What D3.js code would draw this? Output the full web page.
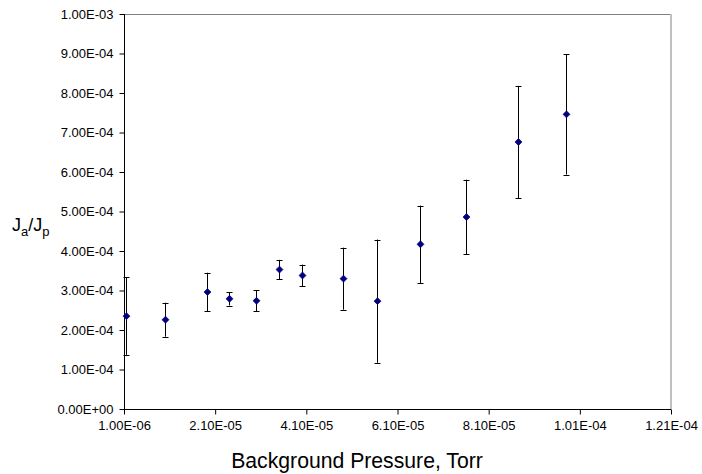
<!DOCTYPE html>
<html>
<head>
<meta charset="utf-8">
<script src="https://cdn.jsdelivr.net/npm/d3@7"></script>
<style>
body { margin: 0; background: #fff; }
text { font-family: "Liberation Sans", Arial, sans-serif; }
</style>
</head>
<body>
<div id="chart"></div>
<script>
// pressure (Torr), ratio Ja/Jp, error half-width
var pressure = [1.5e-6, 1.0e-5, 1.91e-5, 2.4e-5, 3.0e-5, 3.5e-5, 4.0e-5, 4.9e-5, 5.65e-5, 6.6e-5, 7.6e-5, 8.75e-5, 9.8e-5]
var ratio = [2.35e-4, 2.26e-4, 2.96e-4, 2.79e-4, 2.74e-4, 3.53e-4, 3.38e-4, 3.30e-4, 2.73e-4, 4.17e-4, 4.86e-4, 6.76e-4, 7.46e-4]
var err = [0.98e-4, 0.43e-4, 0.49e-4, 0.17e-4, 0.26e-4, 0.245e-4, 0.275e-4, 0.785e-4, 1.56e-4, 0.98e-4, 0.945e-4, 1.42e-4, 1.525e-4]

var xTicks = [1.0e-6, 2.1e-5, 4.1e-5, 6.1e-5, 8.1e-5, 1.01e-4, 1.21e-4]
var yTicks = [0, 1e-4, 2e-4, 3e-4, 4e-4, 5e-4, 6e-4, 7e-4, 8e-4, 9e-4, 1e-3]

var width = 702, height = 474
var margin = {left: 124, top: 14, right: 31, bottom: 65}

var svg = d3.select("#chart")
  .append("svg")
  .attr("width", width)
  .attr("height", height)

var x = d3.scaleLinear()
    .domain([1.0e-6, 1.21e-4])
    .range([margin.left, width - margin.right])
var y = d3.scaleLinear()
    .domain([0, 1e-3])
    .range([height - margin.bottom, margin.top])

function sci(v){
    // excel style 1.00E-04
    if(v == 0) return "0.00E+00"
    let s = v.toExponential(2).toUpperCase()
    let parts = s.split("E")
    let e = parseInt(parts[1])
    let sign = e < 0 ? "-" : "+"
    let ab = Math.abs(e)
    return parts[0] + "E" + sign + (ab < 10 ? "0" + ab : ab)
}

// plot frame: top gray, right light gray
svg.append("line")
  .attr("x1", x.range()[0]).attr("x2", x.range()[1])
  .attr("y1", y(1e-3) + 0.5).attr("y2", y(1e-3) + 0.5)
  .attr("stroke", "#808080")
svg.append("line")
  .attr("x1", x.range()[1]).attr("x2", x.range()[1])
  .attr("y1", y(1e-3)).attr("y2", y(0))
  .attr("stroke", "#c0c0c0")
  .attr("stroke-width", 2)

var xAxis = svg.append("g")
  .attr("transform", "translate(0," + (y(0) + 0.5) + ")")
  .call(d3.axisBottom(x).tickValues(xTicks).tickSize(5).tickPadding(6).tickFormat(sci))
var yAxis = svg.append("g")
  .attr("transform", "translate(" + (x.range()[0] + 0.5) + ",0)")
  .call(d3.axisLeft(y).tickValues(yTicks).tickSize(5).tickPadding(6).tickFormat(sci))

// plain axis lines, no end caps
xAxis.select(".domain").attr("stroke", "#000").attr("d", "M" + x.range()[0] + ",0H" + x.range()[1])
yAxis.select(".domain").attr("stroke", "#000").attr("d", "M0," + y.range()[0] + "V" + y.range()[1])
svg.selectAll(".tick text")
  .attr("font-size", 13)
  .attr("fill", "#000")
  .style("font-family", "'Liberation Sans', Arial, sans-serif")
svg.selectAll(".tick line").attr("stroke", "#000")

// error bars
var bars = svg.append("g")
pressure.forEach(function(p, i){
    let cx = Math.round(x(p)) + 0.5
    let top = y(ratio[i] + err[i])
    let bot = y(ratio[i] - err[i])
    bars.append("line")
      .attr("x1", cx).attr("x2", cx)
      .attr("y1", top).attr("y2", bot)
      .attr("stroke", "#000")
    ;[top, bot].forEach(function(yy){
        bars.append("line")
          .attr("x1", cx - 3).attr("x2", cx + 3)
          .attr("y1", Math.round(yy) + 0.5).attr("y2", Math.round(yy) + 0.5)
          .attr("stroke", "#000")
    })
})

// diamond markers
svg.append("g")
  .selectAll("path")
  .data(pressure)
  .enter()
  .append("path")
  .attr("d", d3.symbol().type(d3.symbolDiamond2).size(30))
  .attr("transform", function(d, i){
      return "translate(" + (Math.round(x(d)) + 0.5) + "," + y(ratio[i]) + ")"
  })
  .attr("fill", "#000080")
  .attr("stroke", "#000080")
  .attr("stroke-width", 0.8)

// axis titles
svg.append("text")
  .attr("x", 357)
  .attr("y", 468)
  .attr("text-anchor", "middle")
  .attr("font-size", 21.2)
  .text("Background Pressure, Torr")

var yl = svg.append("text")
  .attr("x", 12)
  .attr("y", 231)
  .attr("font-size", 18)
yl.append("tspan").text("J")
yl.append("tspan").attr("font-size", 13).attr("dy", 5).text("a")
yl.append("tspan").attr("dy", -5).text("/J")
yl.append("tspan").attr("font-size", 13).attr("dy", 5).text("p")
</script>
</body>
</html>
